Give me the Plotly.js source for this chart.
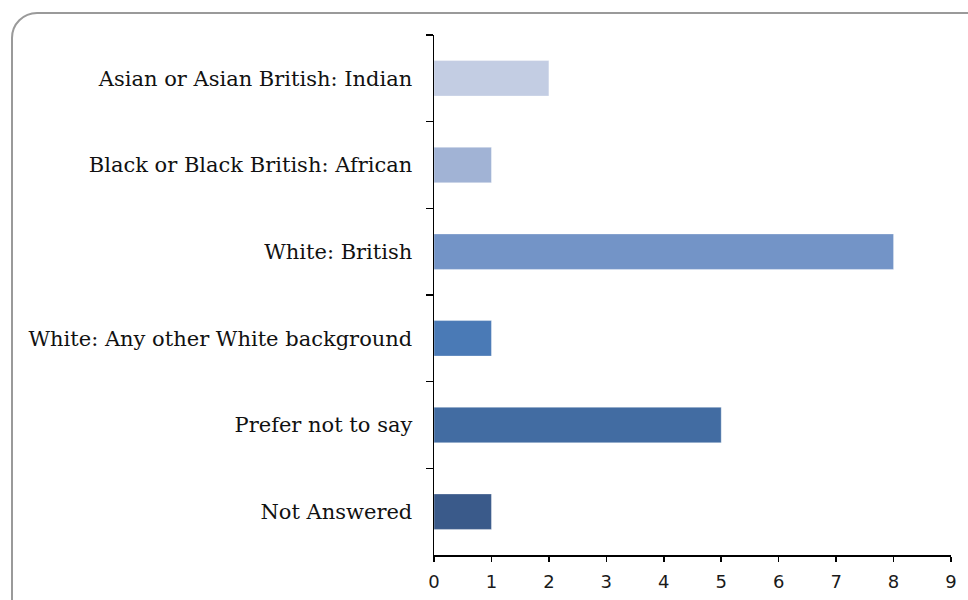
<!DOCTYPE html>
<html>
<head>
<meta charset="utf-8">
<script src="https://cdn.plot.ly/plotly-3.0.1.min.js"></script>
<style>
html,body{margin:0;padding:0;background:#fff;overflow:hidden;}
#wrap{position:relative;width:968px;height:600px;}
#frame{position:absolute;left:11px;top:12px;width:990px;height:620px;border:2px solid #9a9a9a;border-radius:26px;pointer-events:none;box-sizing:border-box;}
#chart{position:absolute;left:0;top:0;width:968px;height:600px;}
</style>
</head>
<body>
<div id="wrap">
<div id="chart"></div>
<div id="frame"></div>
</div>
<script>
const categories = [
  "Asian or Asian British: Indian",
  "Black or Black British: African",
  "White: British",
  "White: Any other White background",
  "Prefer not to say",
  "Not Answered"
];
const counts = [2, 1, 8, 1, 5, 1];
const barColors = ["#c3cde3", "#a1b3d5", "#7394c7", "#4a7ab6", "#426ca2", "#3a5a8a"];
const xTicks = [0, 1, 2, 3, 4, 5, 6, 7, 8, 9];

const trace = {
  type: "bar",
  orientation: "h",
  y: categories,
  x: counts,
  marker: {color: barColors, line: {width: 1, color: "rgba(255,255,255,0.35)"}},
  width: 0.41,
  hoverinfo: "x+y"
};

const layout = {
  width: 968,
  height: 600,
  margin: {l: 434, r: 17, t: 35, b: 45},
  paper_bgcolor: "rgba(0,0,0,0)",
  plot_bgcolor: "rgba(0,0,0,0)",
  showlegend: false,
  xaxis: {
    range: [0, 9],
    tickvals: xTicks,
    ticktext: xTicks.map(String),
    showgrid: false,
    zeroline: false,
    showline: true,
    linecolor: "#000",
    linewidth: 1.5,
    ticks: "outside",
    ticklen: 5,
    tickwidth: 1.5,
    tickcolor: "#000",
    ticklabelstandoff: 5,
    tickfont: {family: "DejaVu Sans", size: 18, color: "#1a1a1a"},
    fixedrange: true
  },
  yaxis: {
    type: "category",
    autorange: "reversed",
    showgrid: false,
    zeroline: false,
    showline: true,
    linecolor: "#000",
    linewidth: 1.5,
    ticks: "outside",
    tickson: "boundaries",
    ticklen: 7,
    tickwidth: 1.5,
    tickcolor: "#000",
    ticklabelstandoff: 16,
    tickfont: {family: "DejaVu Serif", size: 21, color: "#111"},
    fixedrange: true
  }
};

Plotly.newPlot("chart", [trace], layout, {displayModeBar: false, staticPlot: true});
</script>
</body>
</html>
